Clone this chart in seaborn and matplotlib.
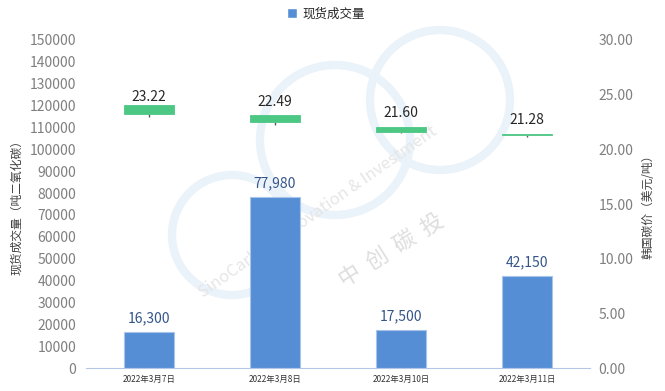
import matplotlib
matplotlib.use("Agg")
import matplotlib.pyplot as plt
from matplotlib.patches import Circle, Patch
import numpy as np
import pandas as pd
import seaborn as sns

# data
dates = ['2022年3月7日', '2022年3月8日', '2022年3月10日', '2022年3月11日']
volumes = [16300, 77980, 17500, 42150]
price_open = [24.05, 23.10, 22.00, 21.36]
price_close = [23.22, 22.49, 21.60, 21.28]
price_high = [24.05, 23.55, 22.55, 21.95]
price_low = [22.95, 22.20, 21.45, 21.10]

sns.set_theme(style="white")
plt.rcParams['font.family'] = ['Noto Sans CJK SC', 'DejaVu Sans']

bar_color = '#558ED5'
green = '#4CC784'
tick_gray = '#7F7F7F'
axis_blue = '#B4C7E7'

fig = plt.figure(figsize=(6.65, 3.91), dpi=100)

# faint watermark behind the chart
ring_color = '#EAF2FA'
for cx, cy, r in [(335, 251, 75), (232, 156, 60), (440, 291, 70)]:
    fig.patches.append(Circle((cx, cy), r, transform=None, fill=False,
                              edgecolor=ring_color, linewidth=6, zorder=-2))
fig.text(318 / 665, 179 / 391, 'SinoCarbon Innovation & Investment', rotation=35,
         ha='center', va='center', fontsize=12, color='#E6E6E6', zorder=-1)
fig.text(392 / 665, 140 / 391, '中  创  碳  投', rotation=32,
         ha='center', va='center', fontsize=16, color='#DEDEDE', zorder=-1)

ax = fig.add_axes([0.1293, 0.0588, 0.7579, 0.8389])
ax.patch.set_alpha(0)

df = pd.DataFrame({'date': dates, 'volume': volumes})
sns.barplot(data=df, x='date', y='volume', color=bar_color, saturation=1,
            width=0.4, edgecolor='#A9C4EB', linewidth=0.8, ax=ax)
ax.bar_label(ax.containers[0], labels=[f'{v:,}' for v in volumes], padding=5,
             fontsize=10, color='#34558B')

ax.set_xlim(-0.5, 3.5)
ax.set_ylim(0, 150000)
ax.set_yticks(np.arange(0, 150001, 10000))
ax.set_yticklabels([str(v) for v in range(0, 150001, 10000)])
ax.set_xlabel('')
ax.set_ylabel('现货成交量（吨二氧化碳）', fontsize=8.5, color='#404040', labelpad=5)
ax.tick_params(axis='y', length=0, pad=7, labelsize=10, labelcolor=tick_gray)
ax.tick_params(axis='x', which='major', length=0, pad=5, labelsize=6, labelcolor='#333333')
ax.set_xticks(np.arange(-0.5, 4, 1), minor=True)
ax.tick_params(axis='x', which='minor', length=4.5, width=0.8, color=axis_blue, direction='out')
for s in ['top', 'left', 'right']:
    ax.spines[s].set_visible(False)
ax.spines['bottom'].set_color(axis_blue)
ax.spines['bottom'].set_linewidth(0.8)

# price candles on the right axis
ax2 = ax.twinx()
ax2.patch.set_alpha(0)
x = np.arange(len(dates))
body_low = np.minimum(price_open, price_close)
body_h = np.abs(np.array(price_open) - np.array(price_close))
ax2.vlines(x, price_low, body_low, color='#595959', linewidth=1, zorder=2)
ax2.bar(x, body_h, bottom=body_low, width=0.4, color=green,
        edgecolor=green, linewidth=0.6, zorder=3)
for xi, hi, c in zip(x, price_high, price_close):
    ax2.annotate(f'{c:.2f}', (xi, hi), xytext=(0, 1), textcoords='offset points',
                 ha='center', va='bottom', fontsize=10, color='#262626', zorder=4)

ax2.set_ylim(0, 30)
ax2.set_yticks(np.arange(0, 31, 5))
ax2.set_yticklabels([f'{v:.2f}' for v in range(0, 31, 5)])
ax2.set_ylabel('韩国碳价（美元/吨）', fontsize=8.5, color='#404040', labelpad=6)
ax2.tick_params(axis='y', length=0, pad=6, labelsize=10, labelcolor=tick_gray)
for s in ax2.spines.values():
    s.set_visible(False)
ax2.grid(False)
ax.grid(False)

fig.legend(handles=[Patch(facecolor=bar_color, label='现货成交量')],
           loc='upper center', bbox_to_anchor=(0.49, 1.01), frameon=False,
           fontsize=9, handlelength=0.8, handleheight=0.8, handletextpad=0.4)

fig.savefig('out.png', dpi=100)
